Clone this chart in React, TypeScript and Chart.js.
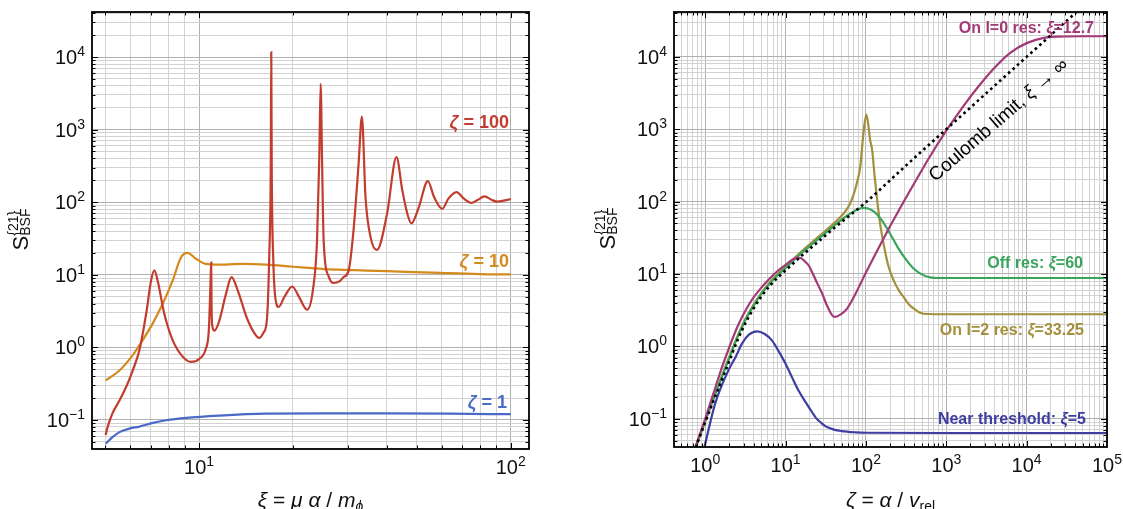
import React, { useEffect, useRef } from "react";
import { Chart, registerables } from "chart.js";

Chart.register(...registerables);

const FONT = '"Liberation Sans", Helvetica, Arial, sans-serif';
const GRID_MINOR = "#d2d2d2";
const GRID_MAJOR = "#b0b0b0";

// ---------------- Left panel: S_BSF vs xi ----------------
const leftXMajor = [10, 100];
const leftYMajor = [0.1, 1, 10, 100, 1000, 10000];

const xiZeta100 = [5.01, 5.08, 5.27, 5.55, 5.82, 6.12, 6.43, 6.76, 7.01, 7.18, 7.36, 7.73, 8.22, 8.87, 9.42, 10.0, 10.5, 10.74, 10.88, 10.93, 10.96, 11.0, 11.2, 11.6, 12.2, 12.7, 13.3, 14.2, 15.0, 15.6, 16.1, 16.5, 16.8, 16.98, 17.04, 17.1, 17.3, 17.6, 18.0, 18.8, 19.9, 20.9, 22.2, 23.2, 23.9, 24.3, 24.55, 24.8, 25.1, 26.1, 27.0, 28.2, 29.1, 30.2, 31.3, 32.5, 33.3, 34.2, 35.5, 37.2, 40.1, 43.0, 44.9, 46.6, 48.0, 50.7, 54.2, 56.8, 60.3, 63.1, 67.0, 70.8, 74.8, 78.2, 82.4, 87.1, 90.6, 100];
const sZeta100 = [0.062, 0.079, 0.123, 0.186, 0.28, 0.48, 0.91, 2.9, 8.3, 11.5, 8.3, 2.9, 1.26, 0.74, 0.63, 0.69, 0.95, 1.7, 7.9, 14.8, 4.0, 2.1, 1.7, 2.3, 5.5, 9.3, 6.1, 2.6, 1.6, 1.35, 1.6, 2.4, 20, 316, 11700, 316, 16, 4.5, 3.6, 5.0, 6.9, 5.0, 3.3, 6.3, 29.5, 400, 4270, 400, 29.5, 9.3, 7.7, 8.1, 9.3, 11.5, 41, 340, 1510, 117, 33, 22, 69, 417, 145, 69, 51, 85, 195, 117, 81, 112, 138, 112, 98, 107, 120, 107, 102, 110];

const xiZeta10 = [5.01, 5.55, 6.12, 6.59, 7.10, 7.64, 8.22, 8.75, 9.18, 9.77, 10.5, 11.3, 13.8, 16.4, 20, 25.1, 31.6, 39.8, 56.2, 79.4, 100];
const sZeta10 = [0.35, 0.48, 0.78, 1.26, 2.14, 3.98, 8.3, 17.4, 20, 16.6, 14.1, 13.8, 14.1, 13.8, 12.9, 12.0, 11.6, 11.2, 10.7, 10.2, 10.1];

const xiZeta1 = [5.01, 5.27, 5.55, 5.97, 6.43, 7.10, 7.83, 9.08, 11.6, 16.4, 25, 40, 63, 100];
const sZeta1 = [0.047, 0.058, 0.068, 0.076, 0.081, 0.091, 0.099, 0.107, 0.115, 0.122, 0.123, 0.123, 0.122, 0.12];

// ---------------- Right panel: S_BSF vs zeta ----------------
const rightXMajor = [1, 10, 100, 1000, 10000, 100000];
const rightYMajor = [0.1, 1, 10, 100, 1000, 10000];

const zetaCoulomb = [0.76, 1.0, 1.26, 1.585, 2.0, 2.51, 3.16, 3.98, 5.01, 6.31, 7.94, 10, 15.8, 25.1, 39.8, 63.1, 100, 316, 1000, 3162, 10000, 50100];
const sCoulomb = [0.040, 0.089, 0.174, 0.33, 0.63, 1.2, 2.09, 3.31, 4.9, 6.8, 8.9, 11.2, 17.8, 27.5, 42.7, 64.6, 98, 316, 1000, 3162, 10000, 50100];

const zetaOff60 = [0.76, 1.0, 1.26, 1.585, 2.0, 2.51, 3.16, 3.98, 5.01, 6.31, 7.94, 10, 15.8, 25.1, 39.8, 63.1, 93, 126, 158, 200, 251, 316, 398, 501, 631, 794, 1000, 100000];
const sOff60 = [0.040, 0.092, 0.185, 0.36, 0.70, 1.32, 2.3, 3.6, 5.3, 7.3, 9.6, 12.1, 19.5, 30, 46, 68, 82, 73, 55, 36, 23, 15.8, 11.7, 9.8, 9.0, 8.8, 8.8, 8.8];

const zetaL2 = [0.76, 1.0, 1.26, 1.585, 2.0, 2.51, 3.16, 3.98, 5.01, 6.31, 7.94, 10, 15.8, 25.1, 39.8, 52.5, 63, 70.8, 78, 85, 93, 101, 106, 112, 120, 128, 138, 150, 166, 190, 224, 260, 295, 350, 398, 479, 600, 1000, 100000];
const sL2 = [0.040, 0.093, 0.188, 0.37, 0.72, 1.36, 2.38, 3.75, 5.5, 7.6, 10.0, 12.6, 20.5, 32, 50, 68, 92, 129, 190, 302, 870, 1600, 1250, 750, 500, 230, 105, 50, 26, 13, 7.9, 5.8, 4.8, 3.7, 3.3, 2.9, 2.8, 2.78, 2.78];

const zetaL0 = [0.76, 1.0, 1.26, 1.585, 2.0, 2.51, 3.16, 3.98, 5.01, 6.31, 7.94, 10, 12, 13.9, 15.5, 17.5, 19.5, 22, 25, 28.5, 33, 40.5, 48, 58, 74, 98, 158.5, 251, 398, 631, 1000, 1585, 2512, 3981, 6310, 10000, 15850, 25120, 50120, 100000];
const sL0 = [0.042, 0.10, 0.22, 0.48, 0.98, 1.85, 3.1, 4.7, 6.5, 8.6, 11.0, 13.4, 15.6, 16.8, 16.6, 14.8, 13.0, 9.9, 7.3, 5.4, 3.6, 2.55, 2.75, 3.3, 5.3, 10, 28.2, 72.4, 178, 427, 955, 1995, 3890, 7080, 11480, 15490, 18200, 19050, 19280, 19280];

const zetaNear5 = [0.98, 1.33, 1.95, 2.4, 2.88, 3.5, 4.42, 5.5, 6.76, 8.5, 10, 12, 14.5, 18, 21.4, 24, 28, 31.6, 40, 50, 74, 100, 1000, 100000];
const sNear5 = [0.041, 0.162, 0.47, 0.72, 1.1, 1.45, 1.61, 1.48, 1.21, 0.8, 0.575, 0.376, 0.245, 0.166, 0.123, 0.102, 0.087, 0.0785, 0.0708, 0.0676, 0.065, 0.064, 0.0635, 0.0635];

const coulombLabelAt = { x: 4365, y: 1387 };

// ---------------- colours ----------------
const RED = "#c23c2f";
const ORANGE = "#d48a1c";
const BLUE = "#4a6ac6";
const PURPLE = "#a23a78";
const OLIVE = "#a38f3c";
const GREEN = "#3aa35c";
const NAVY = "#3d3da3";

type Seg = { t: string; size: number; style?: string; weight?: string; dy?: number };

function fontOf(s: Seg) {
  return `${s.style || "normal"} ${s.weight || "normal"} ${s.size}px ${FONT}`;
}

function drawSegs(ctx: CanvasRenderingContext2D, segs: Seg[], x: number, y: number, align: "left" | "center" | "right") {
  let total = 0;
  const ws = segs.map((s) => {
    ctx.font = fontOf(s);
    const w = ctx.measureText(s.t).width;
    total += w;
    return w;
  });
  let cx = align === "left" ? x : align === "center" ? x - total / 2 : x - total;
  ctx.textAlign = "left";
  ctx.textBaseline = "alphabetic";
  segs.forEach((s, i) => {
    ctx.font = fontOf(s);
    ctx.fillText(s.t, cx, y + (s.dy || 0));
    cx += ws[i];
  });
}

function isMajor(v: number) {
  const l = Math.log10(v);
  return Math.abs(l - Math.round(l)) < 1e-6;
}

function decadeTicks(min: number, max: number): number[] {
  const out: number[] = [];
  for (let e = Math.floor(Math.log10(min)); e <= Math.ceil(Math.log10(max)); e++) {
    for (let k = 1; k <= 9; k++) {
      const v = parseFloat((k * Math.pow(10, e)).toPrecision(6));
      if (v >= min && v <= max) out.push(v);
    }
  }
  return out;
}

function powSegs(v: number): Seg[] {
  const e = Math.round(Math.log10(v));
  return [
    { t: "10", size: 20 },
    { t: e < 0 ? "\u2212" + -e : String(e), size: 14, dy: -8 },
  ];
}

function pts(xs: number[], ys: number[]) {
  return xs.map((x, i) => ({ x, y: ys[i] }));
}

function line(data: any[], color: string, order: number, extra: any = {}) {
  return {
    data,
    borderColor: color,
    backgroundColor: color,
    borderWidth: 2.2,
    pointRadius: 0,
    showLine: true,
    fill: false,
    cubicInterpolationMode: "monotone",
    order,
    ...extra,
  };
}

interface Note {
  segs: Seg[];
  color: string;
  x: number;
  y: number;
}

interface PanelSpec {
  key: string;
  xMin: number;
  xMax: number;
  yMin: number;
  yMax: number;
  xMajor: number[];
  yMajor: number[];
  axisWidth: number;
  axisHeight: number;
  padRight: number;
  padTop: number;
  datasets: any[];
  xTitle: Seg[];
  yTitleX: number;
  notes: Note[];
  coulomb?: boolean;
}

function decorPlugin(p: PanelSpec) {
  return {
    id: "decor" + p.key,
    afterDraw(chart: any) {
      const ctx: CanvasRenderingContext2D = chart.ctx;
      const a = chart.chartArea;
      const xs = chart.scales.x;
      const ys = chart.scales.y;
      const xt = decadeTicks(p.xMin, p.xMax);
      const yt = decadeTicks(p.yMin, p.yMax);
      ctx.save();
      // inward frame ticks on all sides
      ctx.strokeStyle = "#000";
      ctx.lineWidth = 1;
      ctx.beginPath();
      for (const v of xt) {
        const px = Math.round(xs.getPixelForValue(v)) + 0.5;
        if (px < a.left || px > a.right) continue;
        const L = isMajor(v) ? 6 : 3.5;
        ctx.moveTo(px, a.bottom);
        ctx.lineTo(px, a.bottom - L);
        ctx.moveTo(px, a.top);
        ctx.lineTo(px, a.top + L);
      }
      for (const v of yt) {
        const py = Math.round(ys.getPixelForValue(v)) + 0.5;
        if (py < a.top || py > a.bottom) continue;
        const L = isMajor(v) ? 6 : 3.5;
        ctx.moveTo(a.left, py);
        ctx.lineTo(a.left + L, py);
        ctx.moveTo(a.right, py);
        ctx.lineTo(a.right - L, py);
      }
      ctx.stroke();
      ctx.lineWidth = 1.8;
      ctx.strokeRect(a.left, a.top, a.right - a.left, a.bottom - a.top);

      // tick labels
      ctx.fillStyle = "#111";
      for (const v of p.xMajor) {
        drawSegs(ctx, powSegs(v), xs.getPixelForValue(v), a.bottom + 25, "center");
      }
      for (const v of p.yMajor) {
        drawSegs(ctx, powSegs(v), a.left - 7, ys.getPixelForValue(v) + 7, "right");
      }

      // x title
      drawSegs(ctx, p.xTitle, (a.left + a.right) / 2, 507, "center");

      // y title  S^{21}_{BSF}
      ctx.save();
      ctx.translate(p.yTitleX, (a.top + a.bottom) / 2 - 1);
      ctx.rotate(-Math.PI / 2);
      const sMain: Seg = { t: "S", size: 22 };
      const sSup: Seg = { t: "{21}", size: 14 };
      const sSub: Seg = { t: "BSF", size: 14 };
      ctx.font = fontOf(sMain);
      const wS = ctx.measureText("S").width;
      ctx.font = fontOf(sSup);
      const wSup = ctx.measureText(sSup.t).width;
      ctx.font = fontOf(sSub);
      const wSub = ctx.measureText(sSub.t).width;
      const tot = wS + Math.max(wSup, wSub);
      const x0 = -tot / 2;
      ctx.textAlign = "left";
      ctx.textBaseline = "alphabetic";
      ctx.font = fontOf(sMain);
      ctx.fillText("S", x0, 0);
      ctx.font = fontOf(sSup);
      ctx.fillText(sSup.t, x0 + wS, -10);
      ctx.font = fontOf(sSub);
      ctx.fillText(sSub.t, x0 + wS, 2);
      ctx.restore();

      // curve labels
      for (const n of p.notes) {
        ctx.fillStyle = n.color;
        drawSegs(ctx, n.segs, n.x, n.y, "right");
      }

      if (p.coulomb) {
        const x1 = xs.getPixelForValue(1000), y1 = ys.getPixelForValue(1000);
        const x2 = xs.getPixelForValue(10000), y2 = ys.getPixelForValue(10000);
        const ang = Math.atan2(y2 - y1, x2 - x1);
        const cx = xs.getPixelForValue(coulombLabelAt.x);
        const cy = ys.getPixelForValue(coulombLabelAt.y);
        ctx.save();
        ctx.translate(cx, cy);
        ctx.rotate(ang + 0.02);
        ctx.fillStyle = "#000";
        drawSegs(
          ctx,
          [
            { t: "Coulomb limit, ", size: 19 },
            { t: "\u03be", size: 19, style: "italic" },
            { t: " \u2192 \u221e", size: 19 },
          ],
          0,
          7,
          "center"
        );
        ctx.restore();
      }
      ctx.restore();
    },
  };
}

function makeConfig(p: PanelSpec): any {
  const xt = decadeTicks(p.xMin, p.xMax);
  const yt = decadeTicks(p.yMin, p.yMax);
  const gridColor = (c: any) => (c.tick && isMajor(c.tick.value) ? GRID_MAJOR : GRID_MINOR);
  return {
    type: "scatter",
    data: { datasets: p.datasets },
    options: {
      animation: false,
      responsive: false,
      maintainAspectRatio: false,
      devicePixelRatio: 1,
      events: [],
      layout: { padding: { left: 0, right: p.padRight, top: p.padTop, bottom: 0 } },
      plugins: { legend: { display: false }, tooltip: { enabled: false } },
      scales: {
        x: {
          type: "logarithmic",
          position: "bottom",
          min: p.xMin,
          max: p.xMax,
          afterBuildTicks: (s: any) => {
            s.ticks = xt.map((v) => ({ value: v }));
          },
          afterFit: (s: any) => {
            s.height = p.axisHeight;
          },
          ticks: { display: false },
          grid: { color: gridColor, lineWidth: 1, drawTicks: false },
          border: { display: false },
        },
        y: {
          type: "logarithmic",
          position: "left",
          min: p.yMin,
          max: p.yMax,
          afterBuildTicks: (s: any) => {
            s.ticks = yt.map((v) => ({ value: v }));
          },
          afterFit: (s: any) => {
            s.width = p.axisWidth;
          },
          ticks: { display: false },
          grid: { color: gridColor, lineWidth: 1, drawTicks: false },
          border: { display: false },
        },
      },
    },
    plugins: [decorPlugin(p)],
  };
}

const bold = (t: string, size = 18): Seg => ({ t, size, weight: "bold" });
const boldIt = (t: string, size = 18): Seg => ({ t, size, weight: "bold", style: "italic" });

const leftSpec: PanelSpec = {
  key: "L",
  xMin: 4.53,
  xMax: 114.5,
  yMin: 0.0398,
  yMax: 41700,
  xMajor: leftXMajor,
  yMajor: leftYMajor,
  axisWidth: 92,
  axisHeight: 60,
  padRight: 31,
  padTop: 12,
  datasets: [
    line(pts(xiZeta100, sZeta100), RED, 1),
    line(pts(xiZeta10, sZeta10), ORANGE, 2),
    line(pts(xiZeta1, sZeta1), BLUE, 3),
  ],
  xTitle: [
    { t: "\u03be", size: 21, style: "italic" },
    { t: " = ", size: 21 },
    { t: "\u03bc", size: 21, style: "italic" },
    { t: " ", size: 21 },
    { t: "\u03b1", size: 21, style: "italic" },
    { t: " / ", size: 21 },
    { t: "m", size: 21, style: "italic" },
    { t: "\u03d5", size: 14, style: "italic", dy: 4 },
  ],
  yTitleX: 28,
  notes: [
    { segs: [boldIt("\u03b6"), bold(" = 100")], color: RED, x: 509, y: 128 },
    { segs: [boldIt("\u03b6"), bold(" = 10")], color: ORANGE, x: 509, y: 267 },
    { segs: [boldIt("\u03b6"), bold(" = 1")], color: BLUE, x: 507, y: 408 },
  ],
};

const rightSpec: PanelSpec = {
  key: "R",
  xMin: 0.409,
  xMax: 100000,
  yMin: 0.0407,
  yMax: 41700,
  xMajor: rightXMajor,
  yMajor: rightYMajor,
  axisWidth: 114,
  axisHeight: 62,
  padRight: 16,
  padTop: 12,
  datasets: [
    line(pts(zetaCoulomb, sCoulomb), "#000", 0, { borderDash: [2.6, 3.4], borderWidth: 2.6, borderCapStyle: "butt" }),
    line(pts(zetaL0, sL0), PURPLE, 1),
    line(pts(zetaOff60, sOff60), GREEN, 2),
    line(pts(zetaL2, sL2), OLIVE, 3),
    line(pts(zetaNear5, sNear5), NAVY, 4),
  ],
  xTitle: [
    { t: "\u03b6", size: 21, style: "italic" },
    { t: " = ", size: 21 },
    { t: "\u03b1", size: 21, style: "italic" },
    { t: " / ", size: 21 },
    { t: "v", size: 21, style: "italic" },
    { t: "rel", size: 14, dy: 4 },
  ],
  yTitleX: 55,
  notes: [
    { segs: [bold("On l=0 res: ", 16), boldIt("\u03be", 16), bold("=12.7", 16)], color: PURPLE, x: 534, y: 33 },
    { segs: [bold("Off res: ", 16), boldIt("\u03be", 16), bold("=60", 16)], color: GREEN, x: 523, y: 268 },
    { segs: [bold("On l=2 res: ", 16), boldIt("\u03be", 16), bold("=33.25", 16)], color: OLIVE, x: 524, y: 335 },
    { segs: [bold("Near threshold: ", 16), boldIt("\u03be", 16), bold("=5", 16)], color: NAVY, x: 526, y: 424 },
  ],
  coulomb: true,
};

export default function App() {
  const leftRef = useRef<HTMLCanvasElement>(null);
  const rightRef = useRef<HTMLCanvasElement>(null);
  useEffect(() => {
    const c1 = new Chart(leftRef.current as HTMLCanvasElement, makeConfig(leftSpec));
    const c2 = new Chart(rightRef.current as HTMLCanvasElement, makeConfig(rightSpec));
    return () => {
      c1.destroy();
      c2.destroy();
    };
  }, []);
  return (
    <div style={{ position: "absolute", left: 0, top: 0, width: 1123, height: 509, background: "#fff", overflow: "hidden" }}>
      <canvas ref={leftRef} width={560} height={509} style={{ position: "absolute", left: 0, top: 0, width: 560, height: 509 }} />
      <canvas ref={rightRef} width={563} height={509} style={{ position: "absolute", left: 560, top: 0, width: 563, height: 509 }} />
    </div>
  );
}
